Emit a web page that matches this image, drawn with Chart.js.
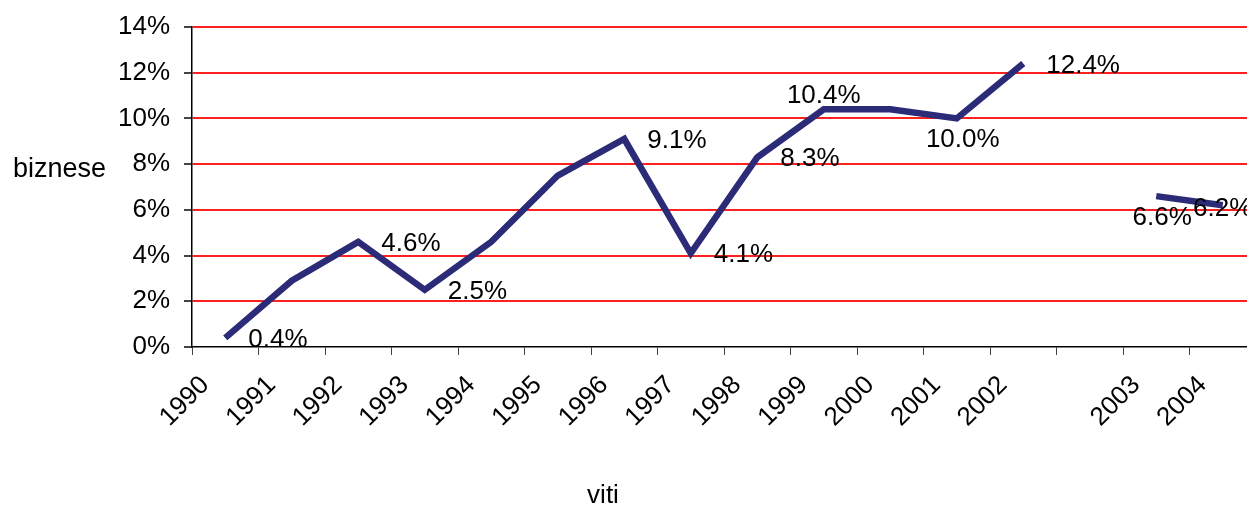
<!DOCTYPE html>
<html>
<head>
<meta charset="utf-8">
<title>biznese sipas viteve</title>
<script src="https://cdn.jsdelivr.net/npm/chart.js@4.4.1/dist/chart.umd.min.js"></script>
<style>
    html, body { margin: 0; padding: 0; background: #fff; overflow: hidden; }
    #wrap { width: 1264px; height: 508px; }
</style>
</head>
<body>
<div id="wrap"><canvas id="chart" width="1264" height="508"></canvas></div>
<script>
// Vitet (kategoria e zbrazet ndan 2002 nga 2003)
const years = ['1990', '1991', '1992', '1993', '1994', '1995', '1996', '1997',
               '1998', '1999', '2000', '2001', '2002', '', '2003', '2004'];
// Perqindja e bizneseve per cdo vit
const share = [0.4, 2.9, 4.6, 2.5, 4.6, 7.5, 9.1, 4.1,
               8.3, 10.4, 10.4, 10.0, 12.4, null, 6.6, 6.2];
// Ku vendoset etiketa e vleres per cdo pike (null = pa etikete)
const labelSpots = ['right', null, 'right', 'right', null, null, 'right', 'right',
                    'right', 'above', null, 'below', 'right', null, 'below', 'center'];
const yTicks = [0, 2, 4, 6, 8, 10, 12, 14];

const FONT = { family: '"Liberation Sans", Arial, sans-serif', size: 26 };
const fontStr = `${FONT.size}px ${FONT.family}`;

// etiketat e vlerave prane vijes
const pointLabels = {
    id: 'pointLabels',
    afterDatasetsDraw(chart) {
        const ctx = chart.ctx;
        const meta = chart.getDatasetMeta(0);
        ctx.save();
        ctx.font = fontStr;
        ctx.fillStyle = '#000';
        ctx.textBaseline = 'alphabetic';
        meta.data.forEach((pt, i) => {
            const spot = labelSpots[i];
            if (!spot || share[i] == null) return;
            const text = share[i].toFixed(1) + '%';
            let x = pt.x, y = pt.y;
            if (spot === 'right') { ctx.textAlign = 'left'; x += 23; y += 9; }
            else if (spot === 'above') { ctx.textAlign = 'center'; y -= 6; }
            else if (spot === 'below') { ctx.textAlign = 'center'; x += 6; y += 29; }
            else { ctx.textAlign = 'center'; y += 11; }
            ctx.fillText(text, x, y);
        });
        ctx.restore();
    }
};

// titujt e boshteve, te dy horizontal
const axisTitles = {
    id: 'axisTitles',
    afterDraw(chart) {
        const ctx = chart.ctx;
        ctx.save();
        ctx.fillStyle = '#000';
        ctx.textBaseline = 'alphabetic';
        ctx.textAlign = 'left';
        ctx.font = `27px ${FONT.family}`;
        ctx.fillText('biznese', 13, 177);
        ctx.font = fontStr;
        ctx.textAlign = 'center';
        ctx.fillText('viti', 603, 503);
        ctx.restore();
    }
};

new Chart(document.getElementById('chart'), {
    type: 'line',
    data: {
        labels: years,
        datasets: [{
            data: share,
            borderColor: '#2b2b78',
            borderWidth: 6.5,
            borderJoinStyle: 'miter',
            borderCapStyle: 'butt',
            pointRadius: 0,
            tension: 0,
            spanGaps: false
        }]
    },
    options: {
        responsive: false,
        animation: false,
        layout: { padding: { top: 27, right: 8, bottom: 0, left: 0 } },
        plugins: { legend: { display: false }, tooltip: { enabled: false } },
        scales: {
            x: {
                offset: true,
                afterFit(s) { s.height = 161; s.paddingLeft = 0; s.paddingRight = 0; },
                ticks: {
                    font: FONT, color: '#000', autoSkip: false,
                    maxRotation: 45, minRotation: 45, padding: 15, labelOffset: -20
                },
                grid: { offset: true, drawOnChartArea: false, tickLength: 8, tickColor: '#444' },
                border: { color: '#000', width: 1.5 }
            },
            y: {
                min: 0, max: 14,
                afterFit(s) { s.width = 192; s.paddingTop = 0; s.paddingBottom = 0; },
                afterBuildTicks(s) { s.ticks = yTicks.map(v => ({ value: v })); },
                ticks: { font: FONT, color: '#000', padding: 14, callback: v => v + '%' },
                grid: {
                    color: c => (c.tick && c.tick.value === 0) ? 'rgba(0,0,0,0)' : '#ff2020',
                    lineWidth: 2, tickLength: 8, tickColor: '#444'
                },
                border: { color: '#000', width: 1.5 }
            }
        }
    },
    plugins: [pointLabels, axisTitles]
});
</script>
</body>
</html>
